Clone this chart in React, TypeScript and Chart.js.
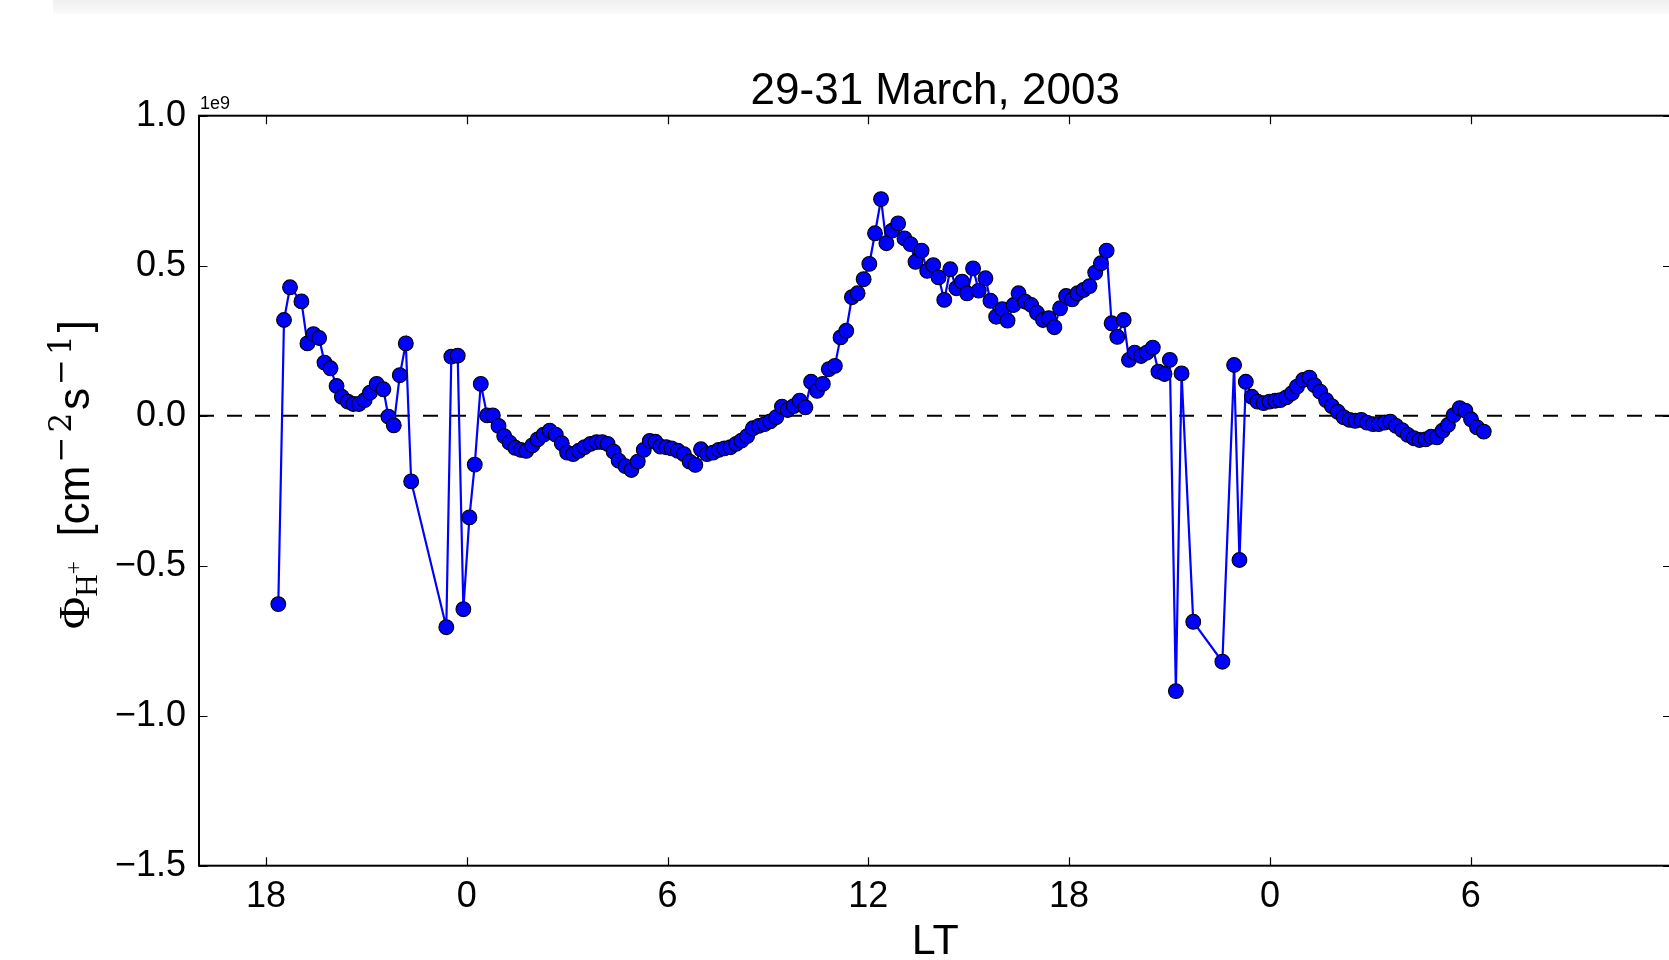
import React, { useEffect, useRef } from 'react';
import { Chart, registerables } from 'chart.js';

Chart.register(...registerables);

// ---------------- data ----------------
const TITLE = '29-31 March, 2003';
const X_LABEL = 'LT';
const OFFSET_TEXT = '1e9';

// continuous local time in hours (18 = 18 LT on day 1, 24 = 0 LT, ...)
const ltHours = [
  18.37, 18.54, 18.72, 19.06, 19.24, 19.42, 19.59, 19.75, 19.93, 20.11,
  20.27, 20.45, 20.61, 20.78, 20.95, 21.11, 21.31, 21.51, 21.66, 21.82,
  22.0, 22.18, 22.34, 23.39, 23.54, 23.73, 23.9, 24.08, 24.24, 24.42,
  24.61, 24.78, 24.95, 25.12, 25.28, 25.45, 25.62, 25.78, 25.96, 26.12,
  26.3, 26.48, 26.66, 26.84, 27.0, 27.18, 27.35, 27.52, 27.7, 27.88,
  28.05, 28.21, 28.39, 28.54, 28.74, 28.92, 29.11, 29.29, 29.47, 29.64,
  29.79, 29.96, 30.12, 30.31, 30.49, 30.66, 30.83, 31.0, 31.18, 31.36,
  31.53, 31.7, 31.88, 32.05, 32.21, 32.38, 32.55, 32.73, 32.9, 33.07,
  33.25, 33.42, 33.59, 33.77, 33.95, 34.12, 34.29, 34.47, 34.64, 34.82,
  35.0, 35.17, 35.34, 35.51, 35.68, 35.86, 36.03, 36.2, 36.38, 36.54,
  36.71, 36.89, 37.08, 37.26, 37.41, 37.59, 37.76, 37.94, 38.1, 38.27,
  38.45, 38.63, 38.8, 38.95, 39.13, 39.3, 39.5, 39.65, 39.82, 40.0,
  40.16, 40.34, 40.49, 40.69, 40.87, 41.04, 41.22, 41.39, 41.56, 41.73,
  41.91, 42.09, 42.25, 42.43, 42.61, 42.78, 42.95, 43.12, 43.27, 43.44,
  43.63, 43.79, 43.96, 44.15, 44.32, 44.5, 44.67, 44.85, 45.01, 45.19,
  45.36, 45.71, 46.58, 46.93, 47.09, 47.28, 47.46, 47.63, 47.81, 47.99,
  48.16, 48.31, 48.49, 48.66, 48.81, 48.99, 49.18, 49.33, 49.5, 49.68,
  49.85, 50.03, 50.2, 50.38, 50.55, 50.73, 50.9, 51.08, 51.25, 51.43,
  51.6, 51.77, 51.95, 52.12, 52.3, 52.47, 52.65, 52.82, 52.99, 53.16,
  53.32, 53.49, 53.67, 53.84, 54.01, 54.19, 54.39,
];

// H+ flux in units of 1e9 cm^-2 s^-1
const fluxE9 = [
  -0.628, 0.319, 0.428, 0.381, 0.241, 0.272, 0.259, 0.177, 0.158, 0.099,
  0.063, 0.047, 0.039, 0.039, 0.052, 0.077, 0.106, 0.088, -0.003, -0.032,
  0.135, 0.241, -0.219, -0.705, 0.197, 0.2, -0.645, -0.339, -0.163, 0.106,
  0.001, 0.001, -0.034, -0.068, -0.09, -0.107, -0.114, -0.117, -0.099, -0.079,
  -0.063, -0.05, -0.063, -0.092, -0.123, -0.128, -0.117, -0.105, -0.094, -0.088,
  -0.088, -0.094, -0.12, -0.15, -0.168, -0.181, -0.153, -0.114, -0.084, -0.087,
  -0.103, -0.105, -0.109, -0.117, -0.128, -0.153, -0.164, -0.112, -0.128, -0.123,
  -0.114, -0.109, -0.105, -0.094, -0.083, -0.068, -0.042, -0.034, -0.028, -0.019,
  -0.005, 0.03, 0.019, 0.032, 0.05, 0.028, 0.113, 0.083, 0.106, 0.155,
  0.166, 0.261, 0.283, 0.395, 0.408, 0.455, 0.506, 0.608, 0.722, 0.575,
  0.617, 0.641, 0.591, 0.572, 0.513, 0.55, 0.483, 0.502, 0.461, 0.386,
  0.488, 0.425, 0.447, 0.408, 0.491, 0.417, 0.458, 0.383, 0.33, 0.355,
  0.317, 0.369, 0.408, 0.38, 0.369, 0.343, 0.319, 0.325, 0.295, 0.358,
  0.399, 0.388, 0.408, 0.419, 0.432, 0.477, 0.508, 0.55, 0.308, 0.263,
  0.319, 0.186, 0.21, 0.199, 0.21, 0.227, 0.147, 0.139, 0.186, -0.918,
  0.141, -0.687, -0.82, 0.169, -0.481, 0.113, 0.063, 0.047, 0.042, 0.047,
  0.05, 0.052, 0.061, 0.075, 0.097, 0.119, 0.127, 0.102, 0.08, 0.052,
  0.032, 0.013, -0.005, -0.014, -0.017, -0.014, -0.023, -0.028, -0.028, -0.023,
  -0.02, -0.034, -0.048, -0.064, -0.075, -0.081, -0.079, -0.07, -0.072, -0.05,
  -0.031, 0.002, 0.025, 0.017, -0.012, -0.039, -0.053,
];

const xTickValues = [18, 24, 30, 36, 42, 48, 54];
const xTickLabels = ['18', '0', '6', '12', '18', '0', '6'];
const yTickValues = [-1.5, -1.0, -0.5, 0.0, 0.5, 1.0];
const yTickLabels = ['\u22121.5', '\u22121.0', '\u22120.5', '0.0', '0.5', '1.0'];

const zeroLineX = [16, 60];
const zeroLineY = [0, 0];

const X_MIN = 16;
const X_MAX = 60;
const Y_MIN = -1.5;
const Y_MAX = 1.0;

// ---------------- layout ----------------
const CANVAS_W = 1680;
const CANVAS_H = 960;
const AREA = { left: 199, top: 115.7, right: 1671.5, bottom: 865.7 };
const SANS = '"Liberation Sans", Arial, Helvetica, sans-serif';
const SERIF = '"Liberation Serif", "DejaVu Serif", serif';
const MATH = '"DejaVu Serif", "Liberation Serif", serif';
const TICK_LEN = 8.5;

type Seg = { text: string; font: string; dy: number; pre: number; post: number };

const yLabelSegs: Seg[] = [
  { text: '\u03A6', font: `44px ${SERIF}`, dy: 0, pre: 0, post: 0 },
  { text: 'H', font: `31px ${SERIF}`, dy: 8, pre: 0, post: 0 },
  { text: '+', font: `24px ${SERIF}`, dy: -8, pre: 0, post: 0 },
  { text: '  ', font: `44px ${SANS}`, dy: 0, pre: 0, post: 0 },
  { text: '[cm', font: `44px ${SANS}`, dy: 0, pre: 0, post: 0 },
  { text: '\u2212', font: `31px ${MATH}`, dy: -18, pre: 3, post: 4 },
  { text: '2', font: `31px ${MATH}`, dy: -18, pre: 0, post: 3 },
  { text: 's', font: `44px ${SANS}`, dy: 0, pre: 0, post: 0 },
  { text: '\u2212', font: `31px ${MATH}`, dy: -18, pre: 3, post: 4 },
  { text: '1', font: `31px ${MATH}`, dy: -18, pre: 0, post: 3 },
  { text: ']', font: `44px ${SANS}`, dy: 0, pre: 0, post: 0 },
];

const framePlugin = {
  id: 'framePlugin',
  afterDatasetsDraw(chart: any) {
    const { ctx, chartArea, scales } = chart;
    const { left, top, right, bottom } = chartArea;
    const xs = scales.x;
    const ys = scales.y;
    ctx.save();
    // spines
    ctx.strokeStyle = '#000';
    ctx.lineWidth = 2;
    ctx.strokeRect(left, top, right - left, bottom - top);
    // inward ticks
    ctx.lineWidth = 1.2;
    ctx.beginPath();
    xTickValues.forEach((v) => {
      const px = Math.round(xs.getPixelForValue(v)) + 0.5;
      ctx.moveTo(px, bottom);
      ctx.lineTo(px, bottom - TICK_LEN);
      ctx.moveTo(px, top);
      ctx.lineTo(px, top + TICK_LEN);
    });
    yTickValues.forEach((v) => {
      const py = Math.round(ys.getPixelForValue(v)) + 0.5;
      ctx.moveTo(left, py);
      ctx.lineTo(left + TICK_LEN, py);
      ctx.moveTo(right, py);
      ctx.lineTo(right - TICK_LEN, py);
    });
    ctx.stroke();

    ctx.fillStyle = '#000';
    // title
    ctx.font = `44px ${SANS}`;
    ctx.textAlign = 'center';
    ctx.textBaseline = 'alphabetic';
    ctx.fillText(TITLE, (left + right) / 2, 104);
    // x label
    ctx.font = `43px ${SANS}`;
    ctx.fillText(X_LABEL, (left + right) / 2, 954);
    // offset text
    ctx.font = `18px ${SANS}`;
    ctx.textAlign = 'left';
    ctx.fillText(OFFSET_TEXT, left + 1, 109);

    // y label (rotated, drawn from the bottom upwards)
    ctx.translate(89, 629);
    ctx.rotate(-Math.PI / 2);
    let cx = 0;
    yLabelSegs.forEach((s) => {
      ctx.font = s.font;
      ctx.textAlign = 'left';
      cx += s.pre;
      ctx.fillText(s.text, cx, s.dy);
      cx += ctx.measureText(s.text).width + s.post;
    });
    ctx.restore();
  },
};

export default function App() {
  const canvasRef = useRef<HTMLCanvasElement | null>(null);

  useEffect(() => {
    const canvas = canvasRef.current;
    if (!canvas) return;
    const seriesPoints = ltHours.map((x, i) => ({ x, y: fluxE9[i] }));
    const zeroPoints = zeroLineX.map((x, i) => ({ x, y: zeroLineY[i] }));

    const chart = new Chart(canvas, {
      type: 'line',
      data: {
        datasets: [
          {
            data: seriesPoints,
            borderColor: '#0000ff',
            borderWidth: 2.2,
            pointRadius: 7.4,
            pointBackgroundColor: '#0000ff',
            pointBorderColor: '#000000',
            pointBorderWidth: 1.1,
            tension: 0,
            order: 0,
          },
          {
            data: zeroPoints,
            borderColor: '#000000',
            borderWidth: 2,
            borderDash: [15, 13],
            pointRadius: 0,
            tension: 0,
            order: 1,
          },
        ],
      },
      options: {
        responsive: false,
        animation: false,
        devicePixelRatio: 1,
        events: [],
        layout: { padding: { left: 0, top: AREA.top, right: CANVAS_W - AREA.right, bottom: 0 } },
        plugins: {
          legend: { display: false },
          tooltip: { enabled: false },
          title: { display: false },
        },
        scales: {
          x: {
            type: 'linear',
            min: X_MIN,
            max: X_MAX,
            afterFit: (s: any) => {
              s.height = CANVAS_H - AREA.bottom;
            },
            afterBuildTicks: (s: any) => {
              s.ticks = xTickValues.map((v) => ({ value: v }));
            },
            grid: { drawOnChartArea: false, drawTicks: false },
            border: { display: false },
            ticks: {
              autoSkip: false,
              maxRotation: 0,
              padding: 10,
              color: '#000',
              font: { family: SANS, size: 36 },
              callback: (v: any) => {
                const i = xTickValues.indexOf(Number(v));
                return i >= 0 ? xTickLabels[i] : '';
              },
            },
          },
          y: {
            type: 'linear',
            min: Y_MIN,
            max: Y_MAX,
            afterFit: (s: any) => {
              s.width = AREA.left;
            },
            afterBuildTicks: (s: any) => {
              s.ticks = yTickValues.map((v) => ({ value: v }));
            },
            grid: { drawOnChartArea: false, drawTicks: false },
            border: { display: false },
            ticks: {
              autoSkip: false,
              padding: 13,
              color: '#000',
              font: { family: SANS, size: 36 },
              callback: (v: any) => {
                const i = yTickValues.findIndex((t) => Math.abs(t - Number(v)) < 1e-9);
                return i >= 0 ? yTickLabels[i] : '';
              },
            },
          },
        },
      } as any,
      plugins: [framePlugin],
    });
    return () => chart.destroy();
  }, []);

  return (
    <div
      style={{
        position: 'fixed',
        left: 0,
        top: 0,
        width: 1669,
        height: 960,
        overflow: 'hidden',
        background: '#fff',
      }}
    >
      <div
        style={{
          position: 'absolute',
          left: 53,
          right: 0,
          top: 0,
          height: 14,
          background: 'linear-gradient(to bottom, #efefef, #fbfbfb)',
        }}
      />
      <canvas
        ref={canvasRef}
        width={CANVAS_W}
        height={CANVAS_H}
        style={{ position: 'absolute', left: 0, top: 0, width: CANVAS_W, height: CANVAS_H }}
      />
    </div>
  );
}
